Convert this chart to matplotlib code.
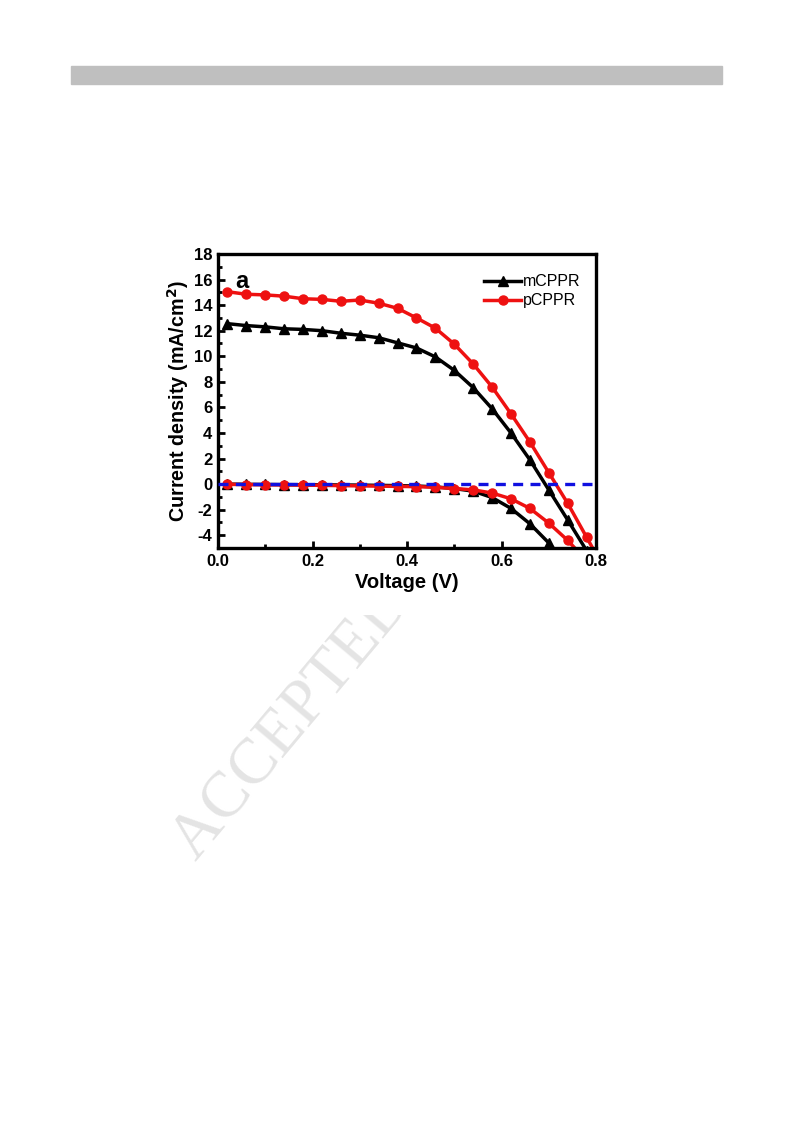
#!/usr/bin/env python3
"""J-V curves (light and dark) for mCPPR and pCPPR devices, panel a."""
import matplotlib

matplotlib.use("Agg")
import matplotlib.pyplot as plt
from matplotlib.patches import Rectangle
from matplotlib.ticker import MultipleLocator

plt.rcParams["font.family"] = ["Liberation Sans", "DejaVu Sans"]
plt.rcParams["mathtext.default"] = "bf"
plt.rcParams["axes.unicode_minus"] = False

# voltage points (V)
volt = [0.02, 0.06, 0.10, 0.14, 0.18, 0.22, 0.26, 0.30, 0.34, 0.38, 0.42,
        0.46, 0.50, 0.54, 0.58, 0.62, 0.66, 0.70, 0.74, 0.78, 0.82]

# current density under illumination (mA/cm2)
m_light = [12.55, 12.4, 12.3, 12.15, 12.1, 12.0, 11.8, 11.65, 11.45, 11.05,
           10.65, 9.95, 8.9, 7.55, 5.9, 4.0, 1.9, -0.45, -2.8, -5.2, -7.7]
p_light = [15.05, 14.85, 14.8, 14.7, 14.5, 14.45, 14.3, 14.4, 14.15, 13.75,
           13.0, 12.2, 10.95, 9.4, 7.6, 5.5, 3.3, 0.9, -1.5, -4.15, -6.8]

# dark current density (mA/cm2)
m_dark = [0.0, -0.02, -0.03, -0.04, -0.05, -0.06, -0.07, -0.08, -0.1, -0.12,
          -0.15, -0.22, -0.35, -0.55, -1.05, -1.9, -3.1, -4.6, -6.4, -8.5, -10.8]
p_dark = [-0.02, -0.04, -0.05, -0.06, -0.08, -0.1, -0.12, -0.14, -0.16, -0.18,
          -0.2, -0.25, -0.35, -0.45, -0.7, -1.15, -1.9, -3.05, -4.4, -6.0, -7.8]

fig = plt.figure(figsize=(7.93, 11.23), dpi=100)
W, H = 793, 1123

# page header bar
fig.patches.append(Rectangle((71 / W, 1 - 84 / H), 651 / W, 18 / H,
                             transform=fig.transFigure, color="#bfbfbf",
                             zorder=0))

# watermark, only the part below the figure box shows
wm = fig.text(196 / W, 1 - 862 / H, "ACCEPTED MANUSCRIPT", rotation=50,
              rotation_mode="anchor", ha="left", va="baseline", fontsize=47,
              family=["Liberation Serif", "DejaVu Serif"], color="#e4e4e4",
              zorder=1)
clip = Rectangle((0, 0), 1, 1 - 615 / H, transform=fig.transFigure,
                 visible=False)
fig.patches.append(clip)
wm.set_clip_path(clip)

ax = fig.add_axes([218 / W, 1 - 548 / H, 378 / W, 294 / H], zorder=3)

lw, ms = 2.5, 6.5
ax.plot(volt, m_light, "-^", color="black", lw=lw, ms=ms, label="mCPPR")
ax.plot(volt, p_light, "-o", color="#ee1111", lw=lw, ms=ms, label="pCPPR")
ax.plot(volt, m_dark, "-^", color="black", lw=lw, ms=ms)
ax.plot(volt, p_dark, "-o", color="#ee1111", lw=lw, ms=ms)
ax.axhline(0, color="#1010e0", lw=2.4, ls=(0, (3, 2.2)), zorder=5)

ax.set_xlim(0, 0.8)
ax.set_ylim(-5, 18)
ax.xaxis.set_major_locator(MultipleLocator(0.2))
ax.xaxis.set_minor_locator(MultipleLocator(0.1))
ax.yaxis.set_minor_locator(MultipleLocator(1))
ax.set_yticks(range(-4, 19, 2))
ax.xaxis.set_major_formatter(lambda v, p: f"{v:.1f}")
ax.tick_params(which="both", direction="in", width=2, top=False, right=False,
               labelsize=12)
ax.tick_params(which="major", length=5, pad=4)
ax.tick_params(which="minor", length=3)
for lab in ax.get_xticklabels() + ax.get_yticklabels():
    lab.set_fontweight("bold")
for s in ax.spines.values():
    s.set_linewidth(2.4)

ax.set_xlabel("Voltage (V)", fontsize=14.5, fontweight="bold", labelpad=3)
ax.set_ylabel("Current density (mA/cm$^2$)", fontsize=14.2, fontweight="bold",
              labelpad=2)
ax.text(0.045, 0.945, "a", transform=ax.transAxes, fontsize=17,
        fontweight="bold", va="top")
ax.legend(loc="upper right", bbox_to_anchor=(1.0, 0.983), frameon=False,
          fontsize=11.5, handlelength=2.3, handletextpad=0.15,
          labelspacing=0.25, borderaxespad=0.55, borderpad=0.4)

fig.savefig("out.png", dpi=100)
